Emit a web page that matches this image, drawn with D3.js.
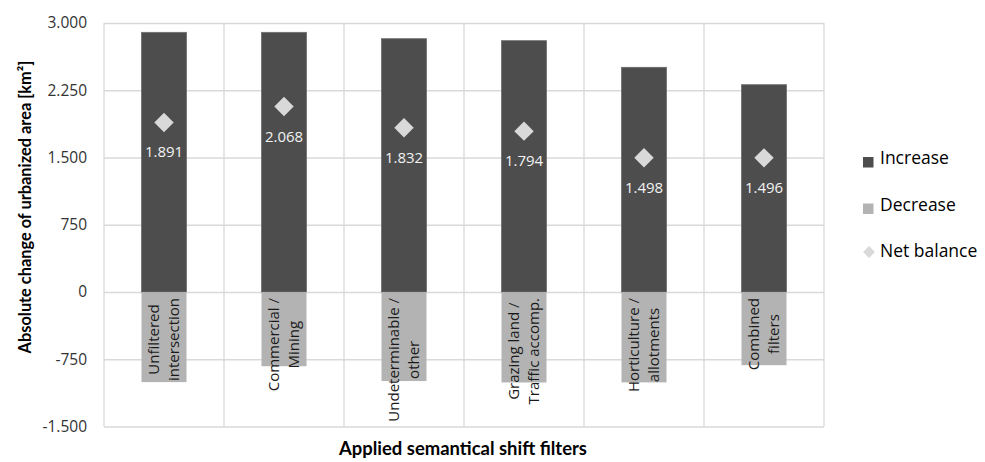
<!DOCTYPE html>
<html>
<head>
<meta charset="utf-8">
<script src="https://cdn.jsdelivr.net/npm/d3@7"></script>
<style>
  html, body { margin: 0; padding: 0; background: #fff; }
  svg { display: block; font-family: "Open Sans", "DejaVu Sans", sans-serif; }
</style>
</head>
<body>
<svg id="chart" width="985" height="462"></svg>
<script>
// ---- data ----
const categories = [
  ["Unfiltered", "intersection"],
  ["Commercial /", "Mining"],
  ["Undeterminable /", "other"],
  ["Grazing land /", "Traffic accomp."],
  ["Horticulture /", "allotments"],
  ["Combined", "filters"]
];
const increase = [2896, 2896, 2825, 2803, 2506, 2312];
const decrease = [-1005, -828, -993, -1009, -1008, -816];
const netBalance = [1891, 2068, 1832, 1794, 1498, 1496];
const yTicks = [-1500, -750, 0, 750, 1500, 2250, 3000];
const seriesNames = ["Increase", "Decrease", "Net balance"];
const yTitle = "Absolute change of urbanized area [km²]";
const xTitle = "Applied semantical shift filters";

// ---- layout ----
const svg = d3.select("#chart");
const plot = { left: 104, right: 824, top: 23, bottom: 426.5 };
const colors = { inc: "#4d4d4d", dec: "#b3b3b3", net: "#d9d9d9", grid: "#d9d9d9", text: "#333333" };

const loc = d3.formatLocale({ decimal: ",", thousands: ".", grouping: [3], currency: ["", ""], minus: "-" });
const fmt = loc.format(",d");

const keys = categories.map(c => c.join(" "));
const x = d3.scaleBand().domain(keys).range([plot.left, plot.right]).paddingInner(0).paddingOuter(0);
const y = d3.scaleLinear().domain([-1500, 3000]).range([plot.bottom, plot.top]);
const barW = x.bandwidth() * 0.375;

// horizontal grid
svg.append("g")
  .attr("transform", `translate(${plot.left},0)`)
  .call(d3.axisLeft(y).tickValues(yTicks).tickSize(-(plot.right - plot.left)).tickFormat(""))
  .call(g => g.select(".domain").remove())
  .call(g => g.selectAll("line").attr("stroke", colors.grid).attr("stroke-width", 1.3));

// vertical grid at band boundaries
const bounds = keys.map(k => x(k)).concat([plot.right]);
svg.append("g").selectAll("line").data(bounds).join("line")
  .attr("x1", d => d).attr("x2", d => d)
  .attr("y1", plot.top).attr("y2", plot.bottom)
  .attr("stroke", colors.grid).attr("stroke-width", 1.3);

// y tick labels
svg.append("g")
  .attr("transform", `translate(${plot.left - 17},0)`)
  .call(d3.axisLeft(y).tickValues(yTicks).tickSize(0).tickPadding(0).tickFormat(d => fmt(d)))
  .call(g => g.select(".domain").remove())
  .call(g => g.selectAll("text").attr("fill", colors.text).style("font-size", "15.5px")
    .style("font-family", '"Open Sans", sans-serif'));

// bars
const bx = k => x(k) + (x.bandwidth() - barW) / 2;
svg.append("g").selectAll("rect").data(keys).join("rect")
  .attr("x", k => bx(k)).attr("width", barW)
  .attr("y", (k, i) => y(increase[i])).attr("height", (k, i) => y(0) - y(increase[i]))
  .attr("fill", colors.inc).attr("stroke", "#6e6e6e").attr("stroke-width", 0.8);
svg.append("g").selectAll("rect").data(keys).join("rect")
  .attr("x", k => bx(k)).attr("width", barW)
  .attr("y", y(0) + 0.8).attr("height", (k, i) => y(decrease[i]) - y(0) - 0.8)
  .attr("fill", colors.dec);

// category labels (rotated, inside decrease bars)
const lh = 20;
const labG = svg.append("g");
categories.forEach((lines, i) => {
  const cx = x(keys[i]) + x.bandwidth() / 2;
  const g = labG.append("g");
  const texts = lines.map((t, j) => g.append("text")
    .attr("text-anchor", "middle")
    .attr("y", (j - (lines.length - 1) / 2) * lh)
    .attr("dy", "0.35em")
    .attr("fill", "#1a1a1a")
    .style("font-size", "15px")
    .text(t));
  const maxLen = d3.max(texts, t => t.node().getComputedTextLength());
  g.attr("transform", `translate(${cx},${y(0) + 6 + maxLen / 2}) rotate(-90)`);
});

// net balance diamonds + labels
const diamond = d3.symbol().type(d3.symbolDiamond2).size(240);
svg.append("g").selectAll("path").data(keys).join("path")
  .attr("transform", (k, i) => `translate(${x(k) + x.bandwidth() / 2},${y(netBalance[i])})`)
  .attr("d", diamond).attr("fill", colors.net);
svg.append("g").selectAll("text").data(keys).join("text")
  .attr("x", k => x(k) + x.bandwidth() / 2)
  .attr("y", (k, i) => y(netBalance[i]) + 35)
  .attr("text-anchor", "middle").attr("fill", "#f2f2f2")
  .style("font-size", "15px")
  .text((k, i) => fmt(netBalance[i]));

// axis titles (fit to target lengths)
function fit(sel, target, base) {
  sel.style("font-size", base + "px");
  const len = sel.node().getComputedTextLength();
  sel.style("font-size", (base * target / len) + "px");
}
const yt = svg.append("text")
  .attr("transform", `translate(${31},${207}) rotate(-90)`)
  .attr("text-anchor", "middle").attr("font-weight", "bold").attr("fill", "#000")
  .style("font-family", 'Lato, "Open Sans", sans-serif')
  .text(yTitle);
fit(yt, 293, 16);
const xt = svg.append("text")
  .attr("x", 463).attr("y", 455)
  .attr("text-anchor", "middle").attr("font-weight", "bold").attr("fill", "#000")
  .style("font-family", 'Lato, "Open Sans", sans-serif')
  .text(xTitle);
fit(xt, 248, 16);

// legend
const leg = svg.append("g");
const rows = [164, 210.5, 257];
seriesNames.forEach((name, i) => {
  const g = leg.append("g");
  if (i < 2) {
    g.append("rect").attr("x", 863).attr("y", rows[i] - 7).attr("width", 10.5).attr("height", 10.5)
      .attr("fill", i === 0 ? colors.inc : colors.dec);
  } else {
    g.append("path").attr("transform", `translate(869,${rows[i] - 5})`)
      .attr("d", d3.symbol().type(d3.symbolDiamond2).size(90)).attr("fill", colors.net);
  }
  g.append("text").attr("x", 880).attr("y", rows[i]).attr("fill", "#000")
    .style("font-size", "17.5px").text(name);
});
</script>
</body>
</html>
